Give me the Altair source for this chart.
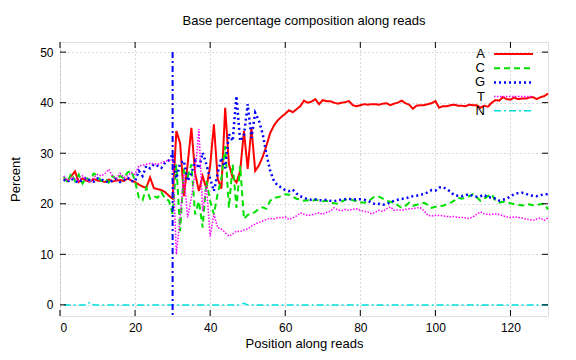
import altair as alt
import pandas as pd

positions = list(range(1, 131))

A = [25.0, 24.5, 25.5, 26.4, 24.3, 25.0, 24.6, 24.4, 24.9, 24.6,
     24.5, 24.3, 24.8, 24.4, 24.6, 24.7, 24.5, 25.0, 24.6, 24.3,
     23.8, 23.4, 23.2, 25.2, 23.1, 22.9, 22.7, 22.3, 21.6, 21.0,
     34.4, 32.0, 21.5, 27.8, 35.0, 26.0, 22.5, 25.5, 23.0, 27.5,
     35.7, 25.0, 23.0, 39.0, 27.8, 25.2, 24.2, 26.5, 34.4, 26.9,
     35.0, 26.5, 27.6, 29.3, 31.5, 34.0, 35.5, 36.5, 37.2, 37.8,
     38.5, 38.1, 38.7, 39.3, 40.4, 40.0, 40.2, 40.7, 39.7, 40.5,
     40.3, 40.3, 40.0, 39.8, 40.0, 40.1, 40.3, 39.5, 39.3, 39.5,
     39.7, 39.6, 39.7, 39.7, 39.6, 39.8, 39.9, 39.5, 39.8, 40.0,
     40.4, 39.9, 39.6, 38.8, 39.4, 39.5, 39.5, 39.7, 39.9, 40.3,
     39.0, 39.3, 39.3, 39.5, 39.6, 39.4, 39.4, 39.3, 39.6, 39.5,
     39.5, 39.0, 39.4, 39.2, 40.0, 40.5, 40.4, 41.1, 40.7, 40.6,
     41.0, 40.7, 40.8, 40.8, 41.0, 41.1, 40.7, 41.1, 41.3, 41.8]

C = [25.3, 24.2, 26.0, 24.5, 25.8, 24.0, 25.2, 24.5, 26.0, 25.5,
     24.5, 25.0, 24.2, 25.5, 24.8, 25.5, 25.0, 26.2, 26.5, 24.5,
     21.2, 20.7, 23.2, 21.0, 21.5, 21.2, 22.3, 21.0, 20.6, 18.0,
     27.8, 14.6, 26.5, 25.2, 27.8, 17.9, 20.5, 15.3, 24.5, 20.6,
     17.9, 22.0, 25.0, 31.4, 19.2, 27.8, 19.2, 27.5, 17.0, 17.8,
     18.0, 18.4, 19.0, 19.3, 19.0, 20.6, 21.2, 21.3, 21.5, 21.9,
     21.8, 21.4, 21.0, 20.8, 20.6, 20.7, 20.5, 20.8, 20.6, 20.5,
     20.6, 20.3, 20.1, 20.0, 20.4, 20.8, 20.9, 20.7, 20.5, 20.3,
     20.2, 20.4, 21.0, 21.5, 21.4, 21.0, 20.6, 20.4, 20.2, 19.7,
     19.2, 19.6, 20.2, 19.6, 19.8, 20.0, 20.2, 19.8, 19.2, 19.4,
     19.5, 19.6, 19.9, 20.2, 20.6, 21.2, 21.0, 21.2, 21.5, 21.9,
     21.3, 20.6, 21.0, 21.5, 21.9, 20.6, 20.2, 20.4, 20.3, 20.1,
     19.9, 19.8, 19.7, 19.6, 19.9, 19.7, 19.8, 19.9, 20.0, 18.9]

G = [24.8, 24.3, 25.0, 24.5, 24.2, 24.8, 25.2, 24.6, 24.4, 25.0,
     24.8, 24.5, 24.2, 24.6, 24.9, 24.3, 24.7, 25.2, 24.5, 24.4,
     26.5, 25.5, 27.5, 27.0, 27.8, 27.5, 27.1, 28.1, 28.6, 29.8,
     25.0, 28.0, 28.5, 24.5, 26.0, 28.5, 27.0, 30.1, 27.8, 25.0,
     22.5, 26.0, 29.1, 27.0, 33.8, 32.4, 41.3, 32.4, 33.5, 39.7,
     33.0, 38.0, 36.4, 33.8, 29.8, 26.5, 24.5, 23.6, 23.2, 22.7,
     22.5, 22.8, 22.0, 21.5, 21.2, 20.9, 20.8, 20.9, 20.7, 20.7,
     20.8, 20.6, 20.5, 20.7, 20.8, 20.9, 21.0, 20.8, 20.9, 20.9,
     20.8, 20.6, 20.2, 19.9, 20.0, 19.8, 19.9, 20.3, 20.6, 20.8,
     21.0, 21.0, 21.3, 21.5, 21.6, 21.8, 21.9, 22.3, 22.7, 22.6,
     23.2, 23.3, 22.9, 22.4, 21.7, 21.6, 21.5, 21.7, 21.9, 21.5,
     21.4, 21.5, 21.8, 21.2, 21.3, 21.0, 20.6, 20.8, 21.0, 21.5,
     21.9, 22.1, 22.2, 22.0, 21.7, 21.6, 21.5, 21.7, 21.9, 21.9]

T = [25.5, 24.6, 25.2, 25.0, 24.6, 25.5, 24.8, 24.2, 25.2, 25.8,
     25.5, 26.0, 26.8, 25.5, 25.0, 26.0, 25.2, 25.5, 26.2, 25.8,
     27.5, 27.6, 27.8, 28.0, 27.9, 27.8, 28.1, 28.4, 28.6, 28.8,
     10.0, 17.3, 25.9, 17.3, 21.2, 26.0, 34.8, 18.6, 23.7, 13.5,
     18.0, 15.3, 15.0, 14.3, 13.6, 14.0, 14.6, 14.5, 14.8, 15.0,
     15.6, 16.0, 16.3, 16.6, 16.9, 17.1, 17.0, 17.3, 17.2, 17.4,
     16.9, 17.2, 17.6, 18.2, 17.9, 17.7, 17.8, 18.0, 18.2, 17.9,
     18.3, 18.5, 19.2, 18.8, 18.6, 18.9, 18.7, 18.9, 19.0, 18.7,
     18.5, 18.4, 18.0, 18.3, 18.7, 18.5, 19.0, 19.4, 18.7, 18.8,
     18.7, 18.9, 19.0, 19.0, 19.2, 19.2, 18.6, 17.7, 17.6, 17.7,
     17.7, 17.6, 17.5, 17.4, 17.5, 17.3, 17.3, 17.2, 17.1, 17.4,
     17.9, 18.4, 18.0, 17.9, 17.9, 18.0, 17.9, 17.6, 17.4, 17.3,
     17.4, 17.3, 17.2, 17.0, 16.9, 16.7, 17.0, 17.2, 16.7, 17.2]

N = [0.0] * 130
N[7] = 0.5
N[48] = 0.3

series_names = ["A", "C", "G", "T", "N"]
series_values = [A, C, G, T, N]
colors = ["#ff0000", "#00e000", "#0000ff", "#ff00ff", "#00dede"]
dashes = [[1, 0], [6, 4], [2, 3], [1.5, 1.5], [7, 3, 2, 3]]
widths = [2, 2, 2.5, 1.5, 1.5]

x_ticks = [0, 20, 40, 60, 80, 100, 120]
y_ticks = [0, 10, 20, 30, 40, 50]
vline_pos = [30]
vline_top = [50]

X_MIN, X_MAX = 0, 130
Y_MIN, Y_MAX = -2.2, 52
W, H = 488, 274
FONT = "Liberation Sans"

rows = []
for name, vals in zip(series_names, series_values):
    for p, v in zip(positions, vals):
        rows.append({"pos": p, "value": v, "series": name})
df = pd.DataFrame(rows)

xscale = alt.Scale(domain=[X_MIN, X_MAX], nice=False, zero=False)
yscale = alt.Scale(domain=[Y_MIN, Y_MAX], nice=False, zero=False)


def xenc():
    return alt.X("pos:Q", scale=xscale,
                 axis=alt.Axis(values=x_ticks, title="Position along reads",
                               grid=True, gridDash=[1, 3], gridColor="#b0b0b0",
                               ticks=False, domain=False, labelPadding=6,
                               labelFontSize=12, titleFontSize=13,
                               titlePadding=4, labelColor="black",
                               titleColor="black", titleFontWeight="normal",
                               labelFont=FONT, titleFont=FONT))


def yenc():
    return alt.Y("value:Q", scale=yscale,
                 axis=alt.Axis(values=y_ticks, title="Percent",
                               grid=True, gridDash=[1, 3], gridColor="#b0b0b0",
                               ticks=False, domain=False, labelPadding=7,
                               labelFontSize=12, titleFontSize=13,
                               titlePadding=17, labelColor="black",
                               titleColor="black", titleFontWeight="normal",
                               labelFont=FONT, titleFont=FONT))


layers = []
for name, col, dash, w in zip(series_names, colors, dashes, widths):
    layers.append(
        alt.Chart(df).transform_filter(alt.datum.series == name)
        .mark_line(color=col, strokeDash=dash, strokeWidth=w)
        .encode(x=xenc(), y=yenc())
    )

# vertical marker line
vdf = pd.DataFrame({"pos": vline_pos, "value": vline_top, "bottom": [Y_MIN]})
layers.append(
    alt.Chart(vdf).mark_rule(color="#0000ff", strokeDash=[6, 3, 2, 3], strokeWidth=2)
    .encode(x=xenc(), y=yenc(), y2="bottom:Q")
)

# inward ticks on all four sides
xt = pd.DataFrame({"pos": x_ticks})
yt = pd.DataFrame({"value": y_ticks})
layers.append(alt.Chart(xt).mark_rule(color="black", strokeWidth=1)
              .encode(x=xenc(), y=alt.value(H), y2=alt.value(H - 6)))
layers.append(alt.Chart(xt).mark_rule(color="black", strokeWidth=1)
              .encode(x=xenc(), y=alt.value(0), y2=alt.value(6)))
layers.append(alt.Chart(yt).mark_rule(color="black", strokeWidth=1)
              .encode(y=yenc(), x=alt.value(0), x2=alt.value(6)))
layers.append(alt.Chart(yt).mark_rule(color="black", strokeWidth=1)
              .encode(y=yenc(), x=alt.value(W), x2=alt.value(W - 6)))

# key (top right)
for i, (name, col, dash, w) in enumerate(zip(series_names, colors, dashes, widths)):
    ypix = 12 + 14.2 * i
    kdf = pd.DataFrame({"label": [name]})
    layers.append(alt.Chart(kdf).mark_text(align="right", baseline="middle",
                                           fontSize=13, font=FONT, color="black")
                  .encode(text="label:N", x=alt.value(425), y=alt.value(ypix)))
    layers.append(alt.Chart(kdf).mark_rule(color=col, strokeDash=dash, strokeWidth=w)
                  .encode(x=alt.value(434), x2=alt.value(473), y=alt.value(ypix)))

chart = alt.layer(*layers).properties(
    width=W, height=H,
    title=alt.Title("Base percentage composition along reads", fontSize=13,
                    font=FONT, fontWeight="normal", anchor="middle", offset=14,
                    color="black"),
    autosize=alt.AutoSizeParams(type="none"),
    padding={"left": 52, "top": 34, "right": 20, "bottom": 36},
).configure_view(stroke="black", strokeWidth=1).configure(background="white")

chart.save("out.html", embed_options={"renderer": "svg", "actions": False})
